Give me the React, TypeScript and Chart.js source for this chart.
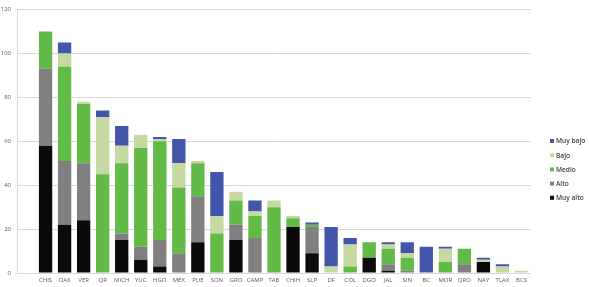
import React, { useEffect, useRef } from "react";
import { Chart, registerables } from "chart.js";

Chart.register(...registerables);

const categories = ["CHIS","OAX","VER","QR","MICH","YUC","HGO","MEX","PUE","SON","GRO","CAMP","TAB","CHIH","SLP","DF","COL","DGO","JAL","SIN","BC","MOR","QRO","NAY","TLAX","BCS"];
const muyAlto = [58,22,24,0,15,6,3,0,14,0,15,0,0,21,9,0,0,7,1,0,0,0,0,5,0,0];
const alto = [35,29,26,0,3,6,12,9,21,0,7,16,0,0,12,0,0,0,3,1,0,0,4,0,0,0];
const medio = [17,43,27,45,32,45,45,30,15,18,11,10,30,4,1,0,3,7,7,6,0,5,7,0,0,0];
const bajo = [0,6,1,26,8,6,1,11,1,8,4,2,3,1,0,3,10,0,2,2,0,6,0,1,3,1];
const muyBajo = [0,5,0,3,9,0,1,11,0,20,0,5,0,0,1,18,3,0,1,5,12,1,0,1,1,0];
const yTicks = [0, 20, 40, 60, 80, 100, 120];

const seriesNames = ["Muy alto", "Alto", "Medio", "Bajo", "Muy bajo"];
const seriesColors = ["#0a0a0a", "#808080", "#62bb47", "#c5d9a0", "#4356aa"];

const legendPlugin = {
  id: "customLegend",
  afterDraw(chart: any) {
    const ctx = chart.ctx;
    ctx.save();
    ctx.font = "600 6.6px 'Open Sans'";
    ctx.textBaseline = "middle";
    ctx.textAlign = "left";
    const x = 550;
    const y0 = 141;
    const step = 14.2;
    for (let i = 0; i < seriesNames.length; i++) {
      const idx = seriesNames.length - 1 - i;
      const y = y0 + i * step;
      ctx.fillStyle = seriesColors[idx];
      ctx.fillRect(x, y - 2, 4, 4);
      ctx.fillStyle = "#404040";
      ctx.fillText(seriesNames[idx], x + 6, y + 0.5);
    }
    ctx.restore();
  },
};

export default function App() {
  const ref = useRef<HTMLCanvasElement | null>(null);
  useEffect(() => {
    if (!ref.current) return;
    const seriesData = [muyAlto, alto, medio, bajo, muyBajo];
    const chart = new Chart(ref.current, {
      type: "bar",
      data: {
        labels: ["", ...categories],
        datasets: seriesNames.map((name, i) => ({
          label: name,
          data: [null, ...seriesData[i]] as any,
          backgroundColor: seriesColors[i],
          borderWidth: 0,
          barPercentage: 0.7,
          categoryPercentage: 1,
        })),
      },
      options: {
        animation: false,
        responsive: false,
        maintainAspectRatio: false,
        layout: { padding: { top: 5, right: 58, left: 0, bottom: 0 } },
        plugins: {
          legend: { display: false },
          tooltip: { enabled: false },
        },
        scales: {
          x: {
            stacked: true,
            grid: { display: false, drawTicks: false },
            border: { display: false },
            ticks: {
              autoSkip: false,
              maxRotation: 0,
              padding: 4,
              color: "#595959",
              font: { size: 6, family: "'Open Sans'" },
            },
            afterFit(scale: any) {
              scale.height = 14;
            },
          },
          y: {
            stacked: true,
            min: 0,
            max: 120,
            afterBuildTicks(scale: any) {
              scale.ticks = yTicks.map((v) => ({ value: v }));
            },
            grid: { color: "#d9d9d9", lineWidth: 1, drawTicks: false },
            border: { display: true, color: "#d9d9d9" },
            ticks: {
              padding: 6,
              color: "#595959",
              font: { size: 6, family: "'Open Sans'" },
            },
            afterFit(scale: any) {
              scale.width = 17;
            },
          },
        },
      },
      plugins: [legendPlugin],
    });
    return () => chart.destroy();
  }, []);
  return (
    <div style={{ position: "fixed", left: 0, top: 0, width: 589, height: 287, background: "#fff" }}>
      <canvas ref={ref} width={589} height={287} style={{ display: "block" }} />
    </div>
  );
}
